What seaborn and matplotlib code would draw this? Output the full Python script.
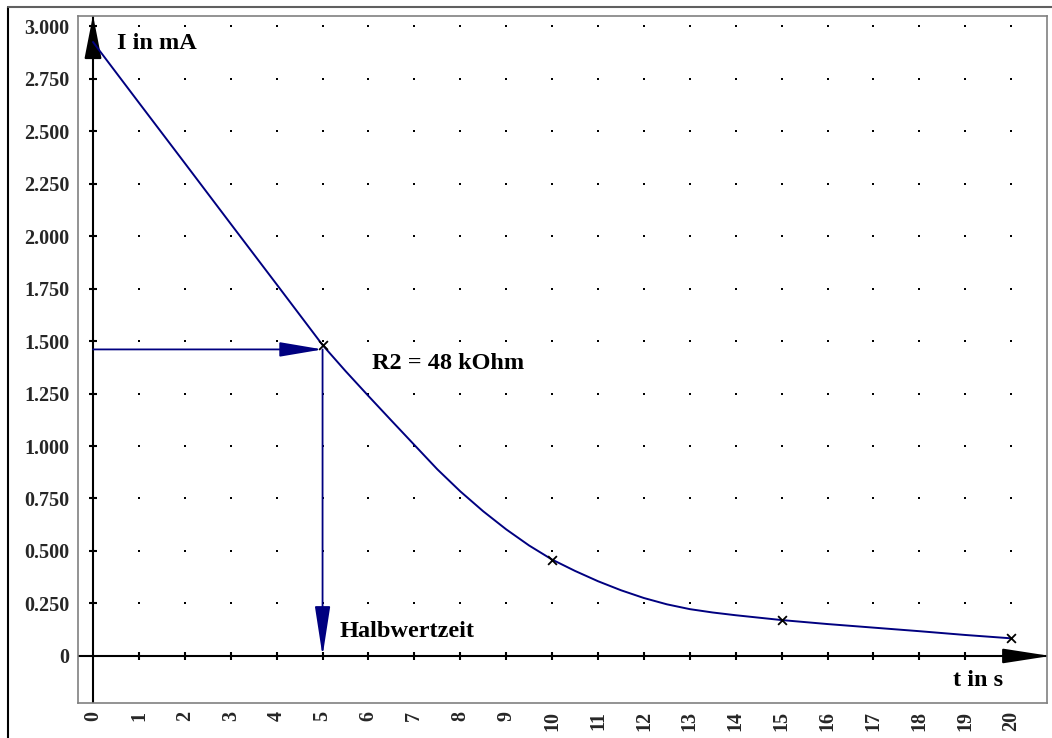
import numpy as np
import pandas as pd
import matplotlib
matplotlib.use("Agg")
import matplotlib.pyplot as plt
from matplotlib.lines import Line2D
import seaborn as sns

# Discharge curve of the capacitor through R2 (time in s, current in mA)
t_curve = [0, 1, 2, 3, 4, 5, 5.5, 6, 6.5, 7, 7.5, 8, 8.5, 9, 9.5, 10, 10.5, 11, 11.5,
           12, 12.5, 13, 13.5, 14, 15, 16, 17, 18, 19, 20]
i_curve = [2.924, 2.635, 2.347, 2.058, 1.770, 1.481, 1.357, 1.238, 1.121, 1.005, 0.889,
           0.784, 0.689, 0.603, 0.526, 0.459, 0.405, 0.356, 0.313, 0.276, 0.246,
           0.223, 0.207, 0.194, 0.171, 0.152, 0.135, 0.118, 0.100, 0.084]

# Measured points
t_meas = [5, 10, 15, 20]
i_meas = [1.481, 0.459, 0.171, 0.084]

# Half-life construction
half_current = 1.46
half_time = 5

x_ticks = list(range(0, 21))
y_ticks = [0, 0.25, 0.5, 0.75, 1.0, 1.25, 1.5, 1.75, 2.0, 2.25, 2.5, 2.75, 3.0]
y_tick_labels = ["0", "0.250", "0.500", "0.750", "1.000", "1.250", "1.500",
                 "1.750", "2.000", "2.250", "2.500", "2.750", "3.000"]

sns.set_style("white")
plt.rcParams["font.family"] = ["Liberation Serif", "DejaVu Serif"]
plt.rcParams["font.weight"] = "bold"

NAVY = "#000080"

fig = plt.figure(figsize=(10.52, 7.38), dpi=100)
ax = fig.add_axes([78 / 1052, 1 - 703 / 738, (1047 - 78) / 1052, (703 - 16) / 738])

ax.set_xlim(-0.327, 20.78)
ax.set_ylim(-0.224, 3.048)

# Dotted grid: a small dot at every grid intersection
gx, gy = np.meshgrid(x_ticks[1:], y_ticks[1:])
ax.scatter(gx.ravel(), gy.ravel(), s=1.5, color="black", marker="s", linewidths=0, zorder=1)

# Axes through the origin with arrow heads
ax.axhline(0, color="black", lw=1.5, zorder=2)
ax.axvline(0, color="black", lw=1.5, zorder=2)
ax.plot(x_ticks[1:], [0] * 20, ls="none", marker="|", ms=6, mew=1.5, color="black", zorder=2)
ax.plot([0] * 12, y_ticks[1:], ls="none", marker="_", ms=6, mew=1.5, color="black", zorder=2)
ax.annotate("", xy=(20.85, 0), xytext=(20.0, 0), annotation_clip=False,
            arrowprops=dict(arrowstyle="-|>,head_length=2.9,head_width=0.45",
                            mutation_scale=10, color="black", lw=1.5,
                            shrinkA=0, shrinkB=0))
ax.annotate("", xy=(0, 3.052), xytext=(0, 2.85), annotation_clip=False,
            arrowprops=dict(arrowstyle="-|>,head_length=2.7,head_width=0.53",
                            mutation_scale=10, color="black", lw=1.5,
                            shrinkA=0, shrinkB=0))

# Curve and measured points
curve = pd.DataFrame({"t": t_curve, "I": i_curve})
meas = pd.DataFrame({"t": t_meas, "I": i_meas})
sns.lineplot(data=curve, x="t", y="I", ax=ax, color=NAVY, lw=1.4, zorder=3)
sns.scatterplot(data=meas, x="t", y="I", ax=ax, marker="x", color="black",
                s=40, linewidth=1.3, zorder=4)

# Half-life arrows
ax.annotate("", xy=(half_time, half_current), xytext=(0, half_current),
            arrowprops=dict(arrowstyle="-|>,head_length=2.66,head_width=0.45",
                            mutation_scale=10, color=NAVY, lw=1.3,
                            shrinkA=0, shrinkB=0), zorder=3)
ax.annotate("", xy=(half_time, 0), xytext=(half_time, half_current),
            arrowprops=dict(arrowstyle="-|>,head_length=3.1,head_width=0.48",
                            mutation_scale=10, color=NAVY, lw=1.3,
                            shrinkA=0, shrinkB=0), zorder=3)

# Labels
txt = dict(fontsize=17.5, fontweight="bold", color="black", va="baseline", ha="left")
ax.text(0.52, 2.89, "I in mA", **txt)
ax.text(6.08, 1.367, "R2 = 48 kOhm", **txt)
ax.text(5.38, 0.090, "Halbwertzeit", **txt)
ax.text(18.74, -0.143, "t in s", **txt)

# Frame and tick labels
ax.set_xticks(x_ticks)
ax.set_xticklabels([str(v) for v in x_ticks], rotation=90, fontsize=14.5, fontweight="bold")
ax.set_yticks(y_ticks)
ax.set_yticklabels(y_tick_labels, fontsize=14.5, fontweight="bold")
ax.tick_params(axis="both", direction="out", length=5, width=1, color="#808080", pad=1)
ax.set_xlabel("")
ax.set_ylabel("")
for sp in ax.spines.values():
    sp.set_color("#808080")
    sp.set_linewidth(1.2)
    sp.set_visible(True)

# Outer page border
fig.add_artist(Line2D([8 / 1052, 8 / 1052], [0, 1 - 7 / 738], transform=fig.transFigure,
                      color="black", lw=1.5))
fig.add_artist(Line2D([8 / 1052, 1], [1 - 7 / 738, 1 - 7 / 738], transform=fig.transFigure,
                      color="#606060", lw=1.5))

fig.savefig("out.png", dpi=100)
